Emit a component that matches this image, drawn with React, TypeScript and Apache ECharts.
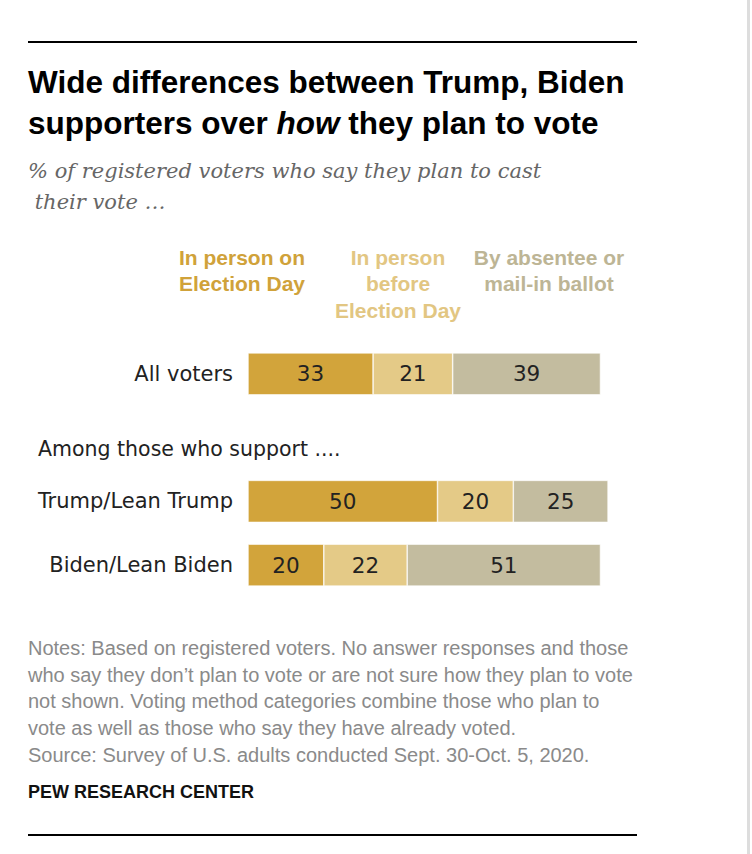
import React, { useEffect, useRef } from "react";
import * as echarts from "echarts";

const categories = ["All voters", "", "Trump/Lean Trump", "Biden/Lean Biden"];
const seriesNames = ["In person on\nElection Day", "In person\nbefore\nElection Day", "By absentee or\nmail-in ballot"];
const inPersonElectionDay: (number | string)[] = [33, "-", 50, 20];
const inPersonBefore: (number | string)[] = [21, "-", 20, 22];
const absenteeMail: (number | string)[] = [39, "-", 25, 51];
const colors = ["#D2A43B", "#E4CA87", "#C3BC9F"];
const legendColors = ["#D0A23A", "#E2C682", "#BDB595"];

const titleText = "Wide differences between Trump, Biden\nsupporters over {i|how} they plan to vote";
const subtitleText = "% of registered voters who say they plan to cast\n their vote \u2026";
const groupLabel = "Among those who support ....";
const notesText =
  "Notes: Based on registered voters. No answer responses and those\nwho say they don\u2019t plan to vote or are not sure how they plan to vote\nnot shown. Voting method categories combine those who plan to\nvote as well as those who say they have already voted.\nSource: Survey of U.S. adults conducted Sept. 30-Oct. 5, 2020.";
const brand = "PEW RESEARCH CENTER";

const SANS = "'Liberation Sans', Arial, sans-serif";
const WIDE = "'DejaVu Sans', Verdana, sans-serif";

export default function App() {
  const ref = useRef<HTMLDivElement>(null);
  useEffect(() => {
    if (!ref.current) return;
    const chart = echarts.init(ref.current, null, { renderer: "svg" });
    const legendX = [242, 398, 549];
    const mkSeries = (name: string, data: (number | string)[], color: string) => ({
      name,
      type: "bar",
      stack: "total",
      barWidth: 42,
      data,
      itemStyle: { color, borderColor: "#ffffff", borderWidth: 0.6 },
      label: {
        show: true,
        position: "inside",
        color: "#222222",
        fontSize: 21.5,
        fontFamily: WIDE,
      },
    });
    chart.setOption({
      animation: false,
      backgroundColor: "#ffffff",
      title: {
        text: titleText,
        left: 23,
        top: 56,
        textStyle: {
          fontFamily: SANS,
          fontWeight: "bold",
          fontSize: 31.5,
          lineHeight: 41,
          color: "#000000",
          rich: {
            i: { fontStyle: "italic", fontWeight: "bold", fontSize: 31.5, fontFamily: SANS, color: "#000000" },
          },
        },
      },
      grid: { left: 248, top: 342, width: 379, height: 255 },
      xAxis: { type: "value", min: 0, max: 100, show: false },
      yAxis: {
        type: "category",
        inverse: true,
        data: categories,
        axisLine: { show: false },
        axisTick: { show: false },
        axisLabel: { fontSize: 21, color: "#222222", fontFamily: WIDE, margin: 15 },
      },
      series: [
        mkSeries(seriesNames[0], inPersonElectionDay, colors[0]),
        mkSeries(seriesNames[1], inPersonBefore, colors[1]),
        mkSeries(seriesNames[2], absenteeMail, colors[2]),
      ],
      graphic: [
        { type: "line", shape: { x1: 28, y1: 42, x2: 637, y2: 42 }, style: { stroke: "#000", lineWidth: 2 } },
        { type: "line", shape: { x1: 28, y1: 835, x2: 637, y2: 835 }, style: { stroke: "#000", lineWidth: 2 } },
        { type: "rect", shape: { x: 747, y: 0, width: 3, height: 854 }, style: { fill: "#dddddd" } },
        {
          type: "text",
          x: 28,
          y: 155,
          style: {
            text: subtitleText,
            font: "italic 21px 'DejaVu Serif', Georgia, serif",
            fill: "#666666",
            lineHeight: 31,
          },
        },
        ...seriesNames.map((n, i) => ({
          type: "text",
          x: legendX[i],
          y: 244,
          style: {
            text: n,
            font: "bold 21px " + SANS,
            fill: legendColors[i],
            align: "center",
            lineHeight: 26.5,
          },
        })),
        {
          type: "text",
          x: 38,
          y: 449,
          style: { text: groupLabel, font: "20.5px " + WIDE, fill: "#222222", verticalAlign: "middle" },
        },
        {
          type: "text",
          x: 28,
          y: 634.5,
          style: { text: notesText, font: "20px " + SANS, fill: "#8a8a8a", lineHeight: 26.75 },
        },
        {
          type: "text",
          x: 28,
          y: 783,
          style: { text: brand, font: "bold 18px " + SANS, fill: "#111111" },
        },
      ],
    });
    return () => chart.dispose();
  }, []);
  return <div ref={ref} style={{ position: "absolute", left: 0, top: 0, width: 752, height: 854 }} />;
}
